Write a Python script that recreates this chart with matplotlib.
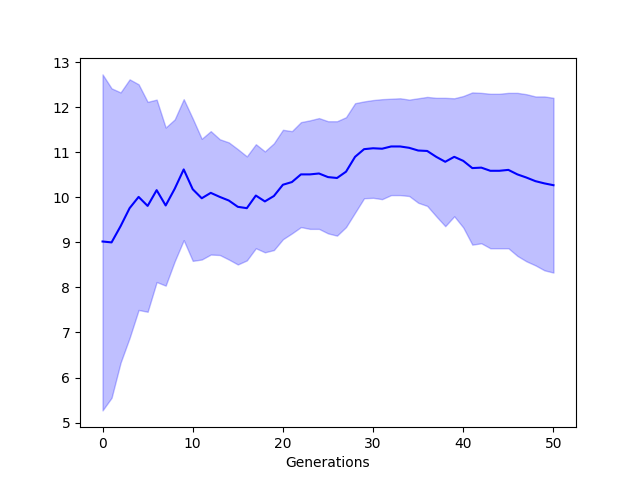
import numpy as np
import matplotlib
matplotlib.use('Agg')
import matplotlib.pyplot as plt

generations = np.arange(0, 51)

mean_fit = [9.02, 9.00, 9.36, 9.76, 10.01, 9.81, 10.16, 9.82, 10.19, 10.62,
            10.18, 9.98, 10.10, 10.01, 9.93, 9.79, 9.76, 10.04, 9.91, 10.03,
            10.28, 10.34, 10.51, 10.51, 10.53, 10.45, 10.43, 10.57, 10.90, 11.07,
            11.09, 11.08, 11.13, 11.13, 11.10, 11.04, 11.03, 10.90, 10.79, 10.90,
            10.81, 10.65, 10.66, 10.59, 10.59, 10.61, 10.51, 10.44, 10.36, 10.31,
            10.27]

upper = [12.73, 12.42, 12.33, 12.62, 12.51, 12.12, 12.17, 11.55, 11.73, 12.18,
         11.75, 11.30, 11.47, 11.29, 11.22, 11.07, 10.91, 11.18, 11.02, 11.20,
         11.50, 11.47, 11.67, 11.71, 11.76, 11.69, 11.69, 11.78, 12.09, 12.13,
         12.16, 12.18, 12.19, 12.20, 12.17, 12.20, 12.23, 12.21, 12.21, 12.20,
         12.25, 12.33, 12.32, 12.30, 12.30, 12.32, 12.32, 12.29, 12.24, 12.24,
         12.21]

lower = [5.27, 5.55, 6.33, 6.88, 7.50, 7.46, 8.12, 8.04, 8.58, 9.05,
         8.59, 8.62, 8.73, 8.72, 8.62, 8.51, 8.60, 8.87, 8.78, 8.83,
         9.07, 9.20, 9.34, 9.30, 9.30, 9.20, 9.15, 9.34, 9.66, 9.98,
         9.99, 9.96, 10.05, 10.05, 10.03, 9.88, 9.81, 9.58, 9.36, 9.58,
         9.33, 8.95, 8.98, 8.87, 8.87, 8.87, 8.70, 8.58, 8.49, 8.38,
         8.33]

plt.figure(figsize=(6.4, 4.8), dpi=100)
plt.plot(generations, mean_fit, color='b')
plt.fill_between(generations, lower, upper, color='b', alpha=0.25)
plt.xlabel('Generations')
plt.savefig('out.png')
